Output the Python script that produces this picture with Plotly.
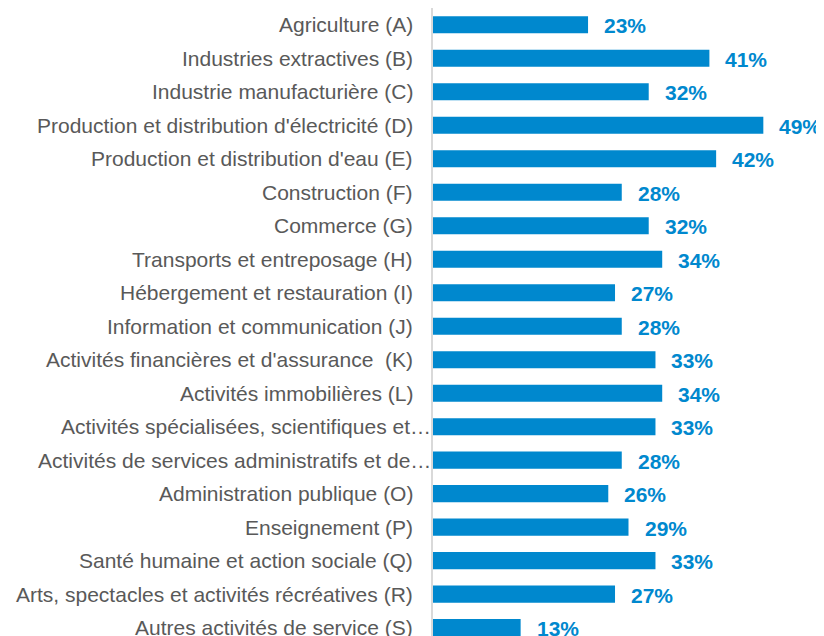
import plotly.graph_objects as go

categories = [
    "Agriculture (A)",
    "Industries extractives (B)",
    "Industrie manufacturière (C)",
    "Production et distribution d'électricité (D)",
    "Production et distribution d'eau (E)",
    "Construction (F)",
    "Commerce (G)",
    "Transports et entreposage (H)",
    "Hébergement et restauration (I)",
    "Information et communication (J)",
    "Activités financières et d'assurance  (K)",
    "Activités immobilières (L)",
    "Activités spécialisées, scientifiques et…",
    "Activités de services administratifs et de…",
    "Administration publique (O)",
    "Enseignement (P)",
    "Santé humaine et action sociale (Q)",
    "Arts, spectacles et activités récréatives (R)",
    "Autres activités de service (S)",
]
values = [23, 41, 32, 49, 42, 28, 32, 34, 27, 28, 33, 34, 33, 28, 26, 29, 33, 27, 13]
truncated = {12, 13}

BAR = "#0088CE"
GRAY = "#595959"
FONT = "Liberation Sans, Arial, sans-serif"

fig = go.Figure(go.Bar(
    x=values, y=categories, orientation="h",
    marker=dict(color=BAR, line=dict(width=0)),
    hoverinfo="skip",
))

annotations = []
for i, (c, v) in enumerate(zip(categories, values)):
    annotations.append(dict(
        x=0, y=c, xref="x", yref="y", text=c, showarrow=False,
        xanchor="right", yanchor="middle",
        xshift=0 if i in truncated else -18, yshift=0,
        font=dict(family=FONT, size=21, color=GRAY),
    ))
    annotations.append(dict(
        x=v, y=c, xref="x", yref="y", text=f"<b>{v}%</b>", showarrow=False,
        xanchor="left", yanchor="middle", xshift=14, yshift=-1,
        font=dict(family=FONT, size=21, color=BAR),
    ))

fig.update_layout(
    width=816, height=628,
    margin=dict(l=425, r=0, t=0, b=0),
    paper_bgcolor="white", plot_bgcolor="white",
    bargap=0.49,
    showlegend=False,
    xaxis=dict(range=[0, 58], visible=False, fixedrange=True),
    yaxis=dict(
        type="category", categoryorder="array", categoryarray=categories,
        range=[18.25, -0.5], showticklabels=False, ticks="",
        showgrid=False, zeroline=False,
        showline=True, linecolor="#D9D9D9", linewidth=2,
    ),
    annotations=annotations,
)

fig.write_html("out.html")
